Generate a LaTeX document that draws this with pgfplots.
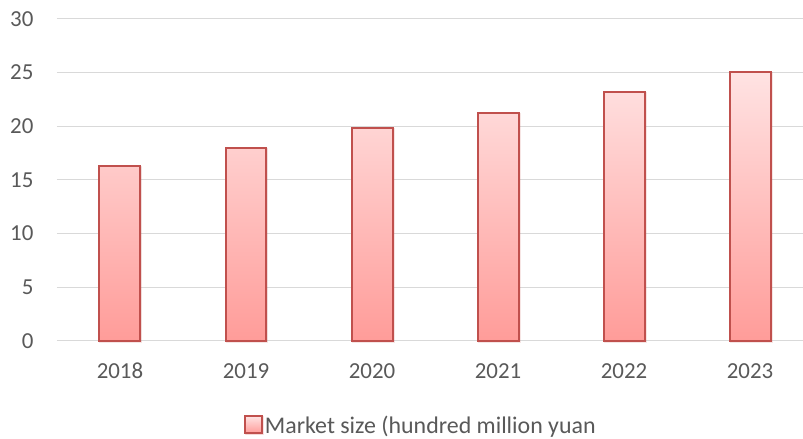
\documentclass[border=0pt]{standalone}
\usepackage{pgfplots}
\pgfplotsset{compat=1.18}
\usepackage{fontspec}
\setmainfont{Carlito}
\usetikzlibrary{shadows}
\definecolor{barline}{HTML}{C0504D}
\definecolor{bartop}{HTML}{FFE3E3}
\definecolor{barbot}{HTML}{FF9C99}
\definecolor{gridc}{HTML}{D9D9D9}
\definecolor{txt}{HTML}{595959}
\begin{document}
\begin{tikzpicture}[x=1bp,y=1bp]
\begin{axis}[
  at={(0,0)}, anchor=south west,
  scale only axis,
  width=746bp, height=322bp,
  ybar, bar width=41bp,
  xmin=-0.5, xmax=5.416,
  ymin=0, ymax=30,
  ytick={0,5,...,30},
  xtick=data,
  xticklabels={2018,2019,2020,2021,2022,2023},
  ymajorgrids, grid style={gridc, line width=1bp},
  axis line style={draw=none},
  major tick length=0pt,
  tick label style={font=\fontsize{23}{26}\selectfont, text=txt},
  /pgf/number format/assume math mode=true,
  yticklabel style={xshift=-20bp},
  xticklabel style={yshift=-19bp},
  legend style={at={(0.488,-0.262)}, anchor=center, draw=none,
    font=\fontsize{24}{26}\selectfont, text=txt},
  legend image code/.code={\draw[#1] (0bp,-8bp) rectangle (17bp,9bp);},
  clip=false,
]
\addplot[draw=barline, line width=2bp, top color=bartop, bottom color=barbot,
  drop shadow={opacity=0.15, shadow xshift=1bp, shadow yshift=-1bp}]
  coordinates {(0,16.3) (1,18.0) (2,19.8) (3,21.25) (4,23.15) (5,25.1)};
\addlegendentry{Market size (hundred million yuan}
\end{axis}
\path[use as bounding box] (-57bp,-95bp) rectangle (746bp,341bp);
\end{tikzpicture}
\end{document}
